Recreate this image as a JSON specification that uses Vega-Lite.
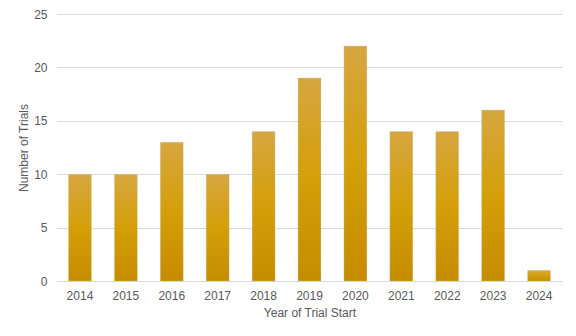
{
  "$schema": "https://vega.github.io/schema/vega-lite/v6.json",
  "width": 505,
  "height": 267,
  "autosize": {"type": "none"},
  "padding": {"left": 57, "top": 14, "right": 14, "bottom": 55},
  "background": "white",
  "data": {"values": [
    {"year": "2014", "trials": 10},
    {"year": "2015", "trials": 10},
    {"year": "2016", "trials": 13},
    {"year": "2017", "trials": 10},
    {"year": "2018", "trials": 14},
    {"year": "2019", "trials": 19},
    {"year": "2020", "trials": 22},
    {"year": "2021", "trials": 14},
    {"year": "2022", "trials": 14},
    {"year": "2023", "trials": 16},
    {"year": "2024", "trials": 1}
  ]},
  "config": {
    "view": {"stroke": null},
    "font": "Liberation Sans",
    "axis": {"labelFont": "Liberation Sans", "titleFont": "Liberation Sans", "labelColor": "#595959", "titleColor": "#595959", "labelFontSize": 12, "titleFontSize": 12, "titleFontWeight": "normal"}
  },
  "mark": {
    "type": "bar",
    "color": {"gradient": "linear", "x1": 0, "y1": 0, "x2": 0, "y2": 1,
      "stops": [{"offset": 0, "color": "#d6a640"}, {"offset": 0.5, "color": "#d49f08"}, {"offset": 1, "color": "#c68c00"}]},
    "stroke": "#c9c9c9",
    "strokeWidth": 0.5,
    "strokeOpacity": 0.6
  },
  "encoding": {
    "x": {"field": "year", "type": "ordinal", "title": "Year of Trial Start",
      "scale": {"paddingInner": 0.5, "paddingOuter": 0.25},
      "axis": {"labelAngle": 0, "ticks": false, "domainColor": "#d9d9d9", "labelPadding": 9, "titlePadding": 6}},
    "y": {"field": "trials", "type": "quantitative", "title": "Number of Trials",
      "scale": {"domain": [0, 25]},
      "axis": {"values": [0, 5, 10, 15, 20, 25], "domain": false, "ticks": false, "gridColor": "#d9d9d9", "labelPadding": 10, "titlePadding": 3}}
  }
}
